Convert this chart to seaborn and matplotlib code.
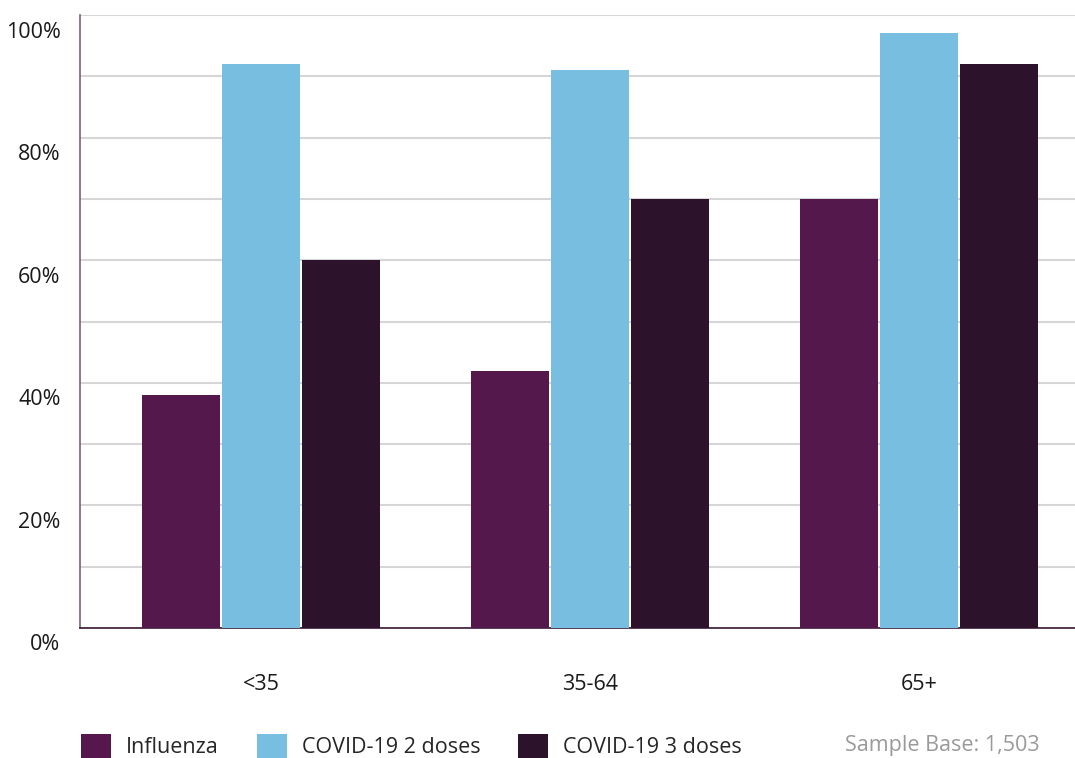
import matplotlib
matplotlib.use("Agg")
import matplotlib.pyplot as plt
import matplotlib.transforms as mtransforms
from matplotlib.patches import Patch
import pandas as pd
import seaborn as sns

# Vaccination uptake by age group
age_groups = ["<35", "35-64", "65+"]
series = ["Influenza", "COVID-19 2 doses", "COVID-19 3 doses"]
influenza = [38, 42, 70]
covid_2_doses = [92, 91, 97]
covid_3_doses = [60, 70, 92]
colors = ["#55184D", "#77BEE0", "#2C122A"]
y_ticks = list(range(0, 101, 10))
y_labels = ["0%", "", "20%", "", "40%", "", "60%", "", "80%", "", "100%"]
sample_note = "Sample Base: 1,503"

df = pd.DataFrame({
    "age": age_groups * 3,
    "series": [s for s in series for _ in age_groups],
    "value": influenza + covid_2_doses + covid_3_doses,
})

sns.set_theme(style="white")
plt.rcParams["font.family"] = ["Open Sans", "DejaVu Sans"]
FS = 15.5

fig = plt.figure(figsize=(10.75, 7.58), dpi=100)
ax = fig.add_axes([80 / 1075, 1 - 628 / 758, 1 - 80 / 1075, (628 - 15) / 758])

sns.barplot(data=df, x="age", y="value", hue="series", hue_order=series,
            palette=colors, saturation=1, width=0.727, gap=0.025,
            linewidth=0, edgecolor="none", legend=False, ax=ax, zorder=3)

ax.set_xlim(-0.55, 2.474)
ax.set_ylim(0, 100)
ax.set_yticks(y_ticks)
ax.set_yticklabels(y_labels)
ax.yaxis.grid(True, color="#d6d6d6", linewidth=1.5, zorder=0)
ax.xaxis.grid(False)
ax.set_xlabel("")
ax.set_ylabel("")

for side in ["top", "right"]:
    ax.spines[side].set_visible(False)
ax.spines["left"].set_color("#7d5f7a")
ax.spines["left"].set_linewidth(1.2)
ax.spines["bottom"].set_color("#3a1a38")
ax.spines["bottom"].set_linewidth(1.2)

ax.tick_params(axis="y", length=0, pad=14, labelsize=FS, labelcolor="#1a1a1a")
ax.tick_params(axis="x", length=0, pad=33, labelsize=FS, labelcolor="#1a1a1a")

# y labels sit slightly below their gridlines
offset = mtransforms.ScaledTranslation(0, -14.5 / 100, fig.dpi_scale_trans)
for lab in ax.get_yticklabels():
    lab.set_transform(lab.get_transform() + offset)

handles = [Patch(facecolor=c, edgecolor="none") for c in colors]
fig.legend(handles, series, loc="center left",
           bbox_to_anchor=(81 / 1075, 1 - 746 / 758), ncol=3, frameon=False,
           fontsize=FS, handlelength=1.4, handleheight=1.4,
           handletextpad=0.7, columnspacing=1.75, borderpad=0, borderaxespad=0)

fig.text(1040 / 1075, 1 - 746 / 758, sample_note, ha="right", va="center",
         fontsize=FS, color="#9a9a9a")

fig.savefig("out.png", dpi=100)
